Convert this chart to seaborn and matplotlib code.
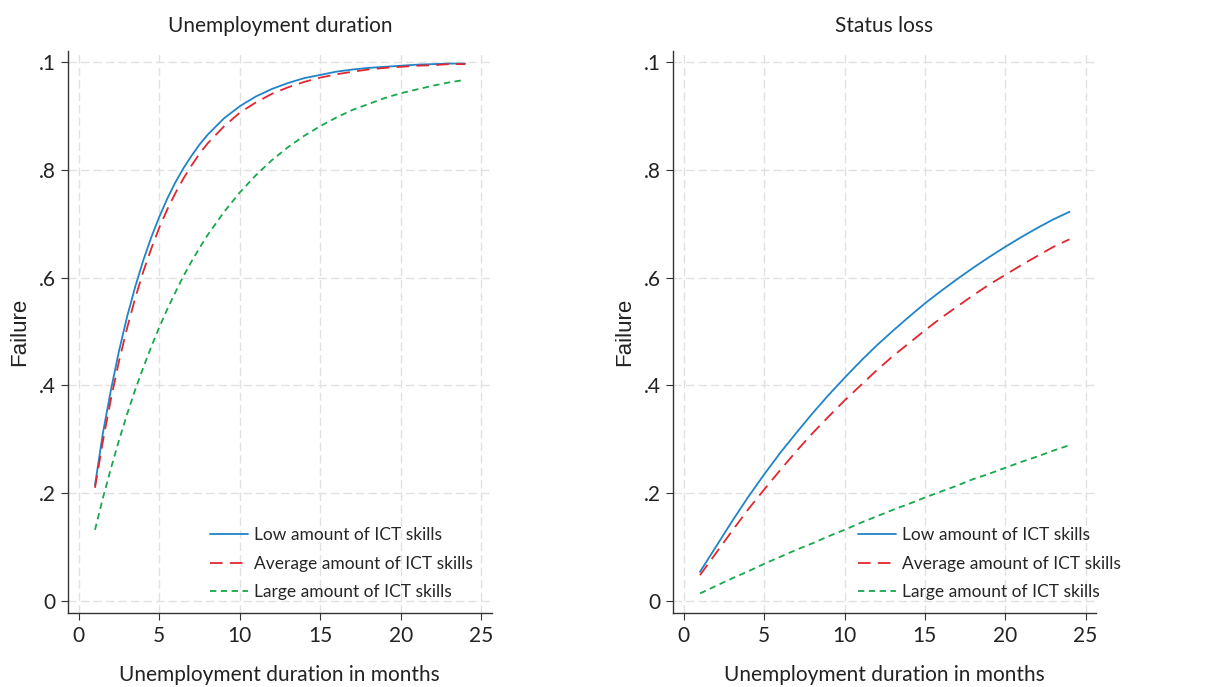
import numpy as np
import pandas as pd
import seaborn as sns
import matplotlib.pyplot as plt

series_names = ["Low amount of ICT skills", "Average amount of ICT skills", "Large amount of ICT skills"]

# panel 1: unemployment duration (finer steps early on, where the curves bend)
dur_months = [1, 1.5, 2, 2.5, 3, 3.5, 4, 4.5, 5, 5.5, 6, 6.5, 7, 7.5, 8, 9, 10, 11, 12,
              13, 14, 15, 16, 17, 18, 19, 20, 21, 22, 23, 24]
dur_low = [0.215, 0.313, 0.393, 0.465, 0.528, 0.583, 0.632, 0.675, 0.713, 0.747, 0.777, 0.803,
           0.826, 0.847, 0.865, 0.895, 0.918, 0.936, 0.950, 0.961, 0.970, 0.976, 0.982, 0.986,
           0.989, 0.991, 0.993, 0.995, 0.996, 0.997, 0.997]
dur_avg = [0.210, 0.298, 0.376, 0.446, 0.507, 0.562, 0.611, 0.654, 0.693, 0.727, 0.757, 0.784,
           0.808, 0.830, 0.849, 0.880, 0.906, 0.925, 0.941, 0.953, 0.963, 0.971, 0.977, 0.982,
           0.986, 0.989, 0.991, 0.993, 0.994, 0.996, 0.996]
dur_large = [0.132, 0.192, 0.247, 0.299, 0.347, 0.392, 0.433, 0.472, 0.508, 0.542, 0.573, 0.603,
             0.630, 0.655, 0.679, 0.721, 0.758, 0.790, 0.818, 0.842, 0.863, 0.881, 0.897, 0.911,
             0.922, 0.933, 0.942, 0.949, 0.956, 0.962, 0.967]

# panel 2: status loss
loss_months = list(range(1, 25))
loss_low = [0.054, 0.101, 0.148, 0.193, 0.235, 0.275, 0.312, 0.348, 0.382, 0.414, 0.445, 0.474,
            0.501, 0.527, 0.552, 0.575, 0.597, 0.618, 0.638, 0.657, 0.675, 0.692, 0.708, 0.722]
loss_avg = [0.048, 0.089, 0.130, 0.170, 0.207, 0.243, 0.278, 0.311, 0.342, 0.372, 0.400, 0.428,
            0.454, 0.478, 0.502, 0.525, 0.546, 0.567, 0.587, 0.605, 0.623, 0.640, 0.657, 0.671]
loss_large = [0.014, 0.028, 0.042, 0.055, 0.069, 0.082, 0.095, 0.107, 0.120, 0.132, 0.145, 0.157,
              0.169, 0.180, 0.192, 0.203, 0.214, 0.226, 0.236, 0.247, 0.258, 0.268, 0.279, 0.289]

x_ticks = [0, 5, 10, 15, 20, 25]
y_ticks = [0, 0.2, 0.4, 0.6, 0.8, 1.0]
y_ticklabels = ["0", ".2", ".4", ".6", ".8", ".1"]

panels = [
    ("Unemployment duration", dur_months, [dur_low, dur_avg, dur_large], 0.335),
    ("Status loss", loss_months, [loss_low, loss_avg, loss_large], 0.437),
]

sns.set_theme(style="white")
plt.rcParams["font.family"] = ["Lato", "DejaVu Sans"]

palette = {series_names[0]: "#1f84c8", series_names[1]: "#e2262f", series_names[2]: "#16a84a"}
dashes = {series_names[0]: "", series_names[1]: (7, 4), series_names[2]: (3.5, 2.5)}

fig = plt.figure(figsize=(12.05, 6.87), dpi=100)
axes = [fig.add_axes([0.0564, 0.1077, 0.3516, 0.8181]),
        fig.add_axes([0.5585, 0.1077, 0.3510, 0.8181])]

for ax, (title, months, values, leg_x) in zip(axes, panels):
    df = pd.DataFrame({
        "month": months * 3,
        "failure": values[0] + values[1] + values[2],
        "group": np.repeat(series_names, len(months)),
    })
    sns.lineplot(data=df, x="month", y="failure", hue="group", style="group",
                 palette=palette, dashes=dashes, linewidth=1.3, ax=ax)

    ax.set_xlim(-0.68, 25.65)
    ax.set_ylim(-0.0223, 1.0204)
    ax.set_xticks(x_ticks)
    ax.set_yticks(y_ticks)
    ax.set_yticklabels(y_ticklabels)
    ax.grid(True, color="#e1e1e1", linestyle=(0, (6, 3)), linewidth=1.0)
    ax.set_axisbelow(True)
    for side in ["top", "right"]:
        ax.spines[side].set_visible(False)
    for side in ["left", "bottom"]:
        ax.spines[side].set_color("#333333")
        ax.spines[side].set_linewidth(1.0)
    ax.tick_params(axis="both", direction="out", length=5, width=0.8, color="#333333",
                   labelsize=15, labelcolor="#222222", pad=4, left=True, bottom=True)
    ax.set_title(title, fontsize=15, color="#222222", pad=14)
    ax.set_xlabel("Unemployment duration in months", fontsize=15, color="#222222", labelpad=14)
    # the y title uses an Arial-like face in the original
    ax.set_ylabel("Failure", fontsize=16, color="#222222", labelpad=6,
                  family=["Liberation Sans", "DejaVu Sans"])

    ax.legend(loc="lower left", bbox_to_anchor=(leg_x, 0.0225), frameon=False, fontsize=12.5,
              borderpad=0, borderaxespad=0, handlelength=2.2, handletextpad=0.35,
              labelspacing=0.72)

fig.savefig("out.png", dpi=100)
